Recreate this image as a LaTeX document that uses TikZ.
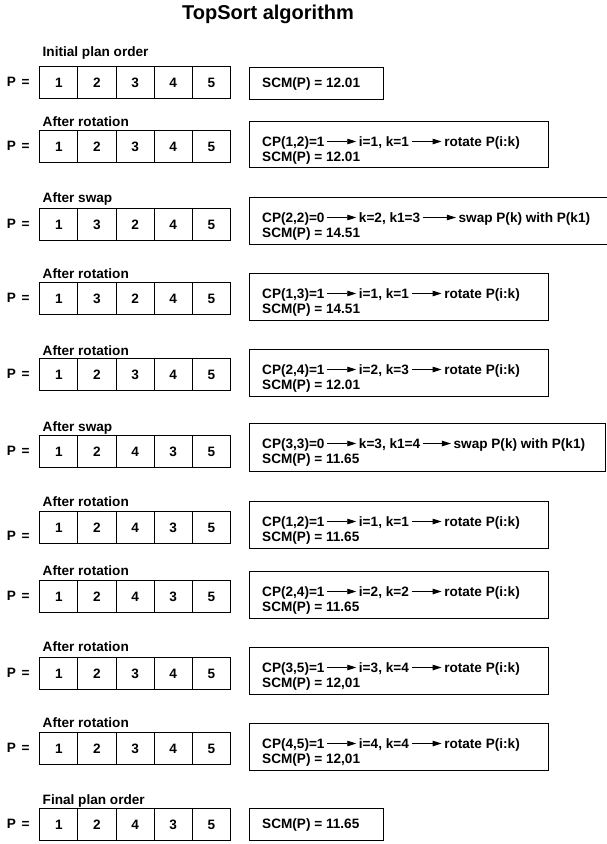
\documentclass[tikz,border=0pt]{standalone}
\usepackage{fontspec}
\setmainfont{Liberation Sans}
\usetikzlibrary{arrows.meta,positioning}
\tikzset{
  every node/.style={font=\bfseries\fontsize{13.6}{15}\selectfont, inner sep=0pt},
  cell/.style={draw, line width=0.9pt, minimum width=38.15pt, minimum height=32pt, anchor=north west},
  infobox/.style={draw, line width=0.9pt, anchor=north west},
  txt/.style={anchor=west, text height=9.7pt, text depth=0pt},
  lab/.style={anchor=west, text height=9.7pt, text depth=0pt},
  peq/.style={text height=9.7pt, text depth=0pt},
  arr/.style={-{Triangle[length=9pt,width=5.5pt]}, line width=0.9pt},
  titlestyle/.style={font=\bfseries\fontsize{20}{24}\selectfont},
}
% #1 id, #2 array top, #3 label y, #4 label, #5 digits, #6 shift of "P ="
\newcommand\planrow[6]{%
  \node[lab] (lab#1) at (42.5,#3) {#4};
  \node[peq] (peq#1) at (18.3,#2+16+#6) {P\hspace{2pt} =};
  \foreach \d [count=\i] in {#5} {
    \node[cell] (c#1-\i) at ({39.3+(\i-1)*38.15},#2) {\d};
  }%
}
% #1 id, #2 top, #3 bottom, #4 right, #5 cp, #6 ik, #7 action, #8 scm, #9 gap
\newcommand\stepinfo[9]{%
  \node[infobox, minimum width={#4-249}, minimum height={#3-#2}] (box#1) at (249,#2) {};
  \node[txt] (cp#1) at (262,#2+20.5) {#5};
  \node[txt, right=34pt of cp#1] (ik#1) {#6};
  \node[txt, right=#9pt of ik#1] (act#1) {#7};
  \node[txt] (scm#1) at (262,#2+36) {#8};
  \draw[arr] ([xshift=2.5pt]cp#1.east) -- ([xshift=-2.5pt]ik#1.west);
  \draw[arr] ([xshift=2.5pt]ik#1.east) -- ([xshift=-2.5pt]act#1.west);
}
% #1 id, #2 top, #3 text
\newcommand\scmonly[3]{%
  \node[infobox, minimum width=134pt, minimum height=32pt] (box#1) at (249,#2) {};
  \node[txt] (scm#1) at (262,#2+16) {#3};
}
\begin{document}
\begin{tikzpicture}[x=1pt,y=-1pt]
\useasboundingbox (0,0) rectangle (606,844);
\node[titlestyle] (title) at (268,14) {TopSort algorithm};

\planrow{1}{66}{52}{Initial plan order}{1,2,3,4,5}{0}
\scmonly{1}{67}{SCM(P) = 12.01}

\planrow{2}{130}{121.5}{After rotation}{1,2,3,4,5}{0}
\stepinfo{2}{121}{167}{547.5}{CP(1,2)=1}{i=1, k=1}{rotate P(i:k)}{SCM(P) = 12.01}{35}

\planrow{3}{208}{198}{After swap}{1,3,2,4,5}{0}
\stepinfo{3}{197}{244}{612}{CP(2,2)=0}{k=2, k1=3}{swap P(k) with P(k1)}{SCM(P) = 14.51}{38}

\planrow{4}{282}{274}{After rotation}{1,3,2,4,5}{0}
\stepinfo{4}{273}{320}{547.5}{CP(1,3)=1}{i=1, k=1}{rotate P(i:k)}{SCM(P) = 14.51}{35}

\planrow{5}{358}{351}{After rotation}{1,2,3,4,5}{0}
\stepinfo{5}{349}{396}{547.5}{CP(2,4)=1}{i=2, k=3}{rotate P(i:k)}{SCM(P) = 12.01}{35}

\planrow{6}{435}{427}{After swap}{1,2,4,3,5}{0}
\stepinfo{6}{423}{471}{605}{CP(3,3)=0}{k=3, k1=4}{swap P(k) with P(k1)}{SCM(P) = 11.65}{33}

\planrow{7}{511}{502}{After rotation}{1,2,4,3,5}{9}
\stepinfo{7}{501}{548}{547.5}{CP(1,2)=1}{i=1, k=1}{rotate P(i:k)}{SCM(P) = 11.65}{35}

\planrow{8}{580}{571}{After rotation}{1,2,4,3,5}{0}
\stepinfo{8}{571}{618}{547.5}{CP(2,4)=1}{i=2, k=2}{rotate P(i:k)}{SCM(P) = 11.65}{35}

\planrow{9}{657}{647}{After rotation}{1,2,3,4,5}{0}
\stepinfo{9}{647}{694}{547.5}{CP(3,5)=1}{i=3, k=4}{rotate P(i:k)}{SCM(P) = 12,01}{35}

\planrow{10}{732}{723}{After rotation}{1,2,3,4,5}{0}
\stepinfo{10}{723}{770}{547.5}{CP(4,5)=1}{i=4, k=4}{rotate P(i:k)}{SCM(P) = 12,01}{35}

\planrow{11}{808}{800}{Final plan order}{1,2,4,3,5}{0}
\scmonly{11}{808}{SCM(P) = 11.65}
\end{tikzpicture}
\end{document}
